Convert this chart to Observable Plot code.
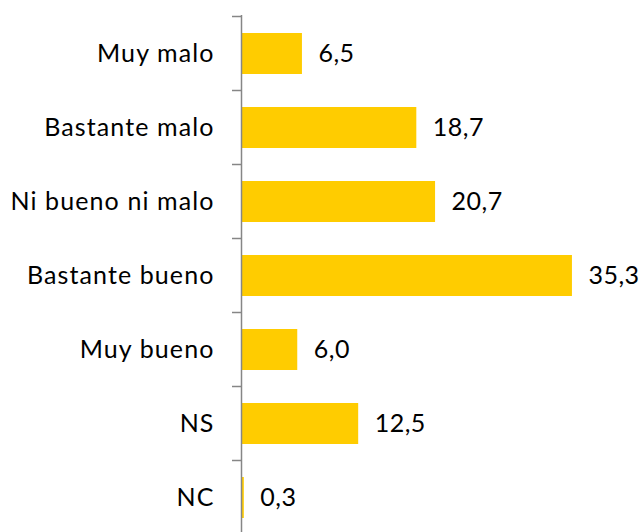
<!DOCTYPE html>
<html>
<head>
<meta charset="utf-8">
<script src="https://cdn.jsdelivr.net/npm/d3@7"></script>
<script src="https://cdn.jsdelivr.net/npm/@observablehq/plot@0.6"></script>
<style>
  html, body { margin: 0; padding: 0; background: #fff; }
  .cat text { letter-spacing: 1.1px; }
  .val text { letter-spacing: 0.5px; }
</style>
</head>
<body>
<div id="chart"></div>
<script>
const categories = ["Muy malo", "Bastante malo", "Ni bueno ni malo", "Bastante bueno", "Muy bueno", "NS", "NC"];
const values = [6.5, 18.7, 20.7, 35.3, 6.0, 12.5, 0.3];

const data = categories.map((c, i) => ({category: c, value: values[i]}));
const fmt = v => v.toFixed(1).replace(".", ",");

// boundary ticks on the left of the axis, placed through the y scale
function boundaryTicks(index, scales) {
  const y = scales.y;
  const bw = scales.scales.y.bandwidth || 0;
  const step = y(categories[1]) - y(categories[0]);
  const x0 = scales.x(0);
  const g = d3.create("svg:g");
  categories.forEach(c => {
    const yy = y(c) + bw / 2 - step / 2;
    g.append("line")
      .attr("x1", x0 - 9).attr("x2", x0)
      .attr("y1", yy).attr("y2", yy)
      .attr("stroke", "#868686").attr("stroke-width", 1.5);
  });
  return g.node();
}

const chart = Plot.plot({
  width: 642,
  height: 532,
  marginLeft: 241,
  marginRight: 26,
  marginTop: 15,
  marginBottom: 0,
  style: {fontFamily: "Lato, sans-serif", fontSize: "24px", background: "#fff", overflow: "visible"},
  x: {domain: [0, 40], range: [241, 616], axis: null},
  y: {domain: categories, range: [15, 535], paddingInner: 0.45, paddingOuter: 0.225, axis: null},
  marks: [
    Plot.barX(data, {x: "value", y: "category", fill: "#FFCC00"}),
    Plot.ruleX([0], {stroke: "#868686", strokeWidth: 1.5}),
    boundaryTicks,
    Plot.text(data, {x: 0, y: "category", text: "category", textAnchor: "end", dx: -27, fill: "#000", fontSize: 25, className: "cat"}),
    Plot.text(data, {x: "value", y: "category", text: d => fmt(d.value), textAnchor: "start", dx: 16, fill: "#000", fontSize: 25, className: "val"})
  ]
});
document.getElementById("chart").appendChild(chart);
</script>
</body>
</html>
